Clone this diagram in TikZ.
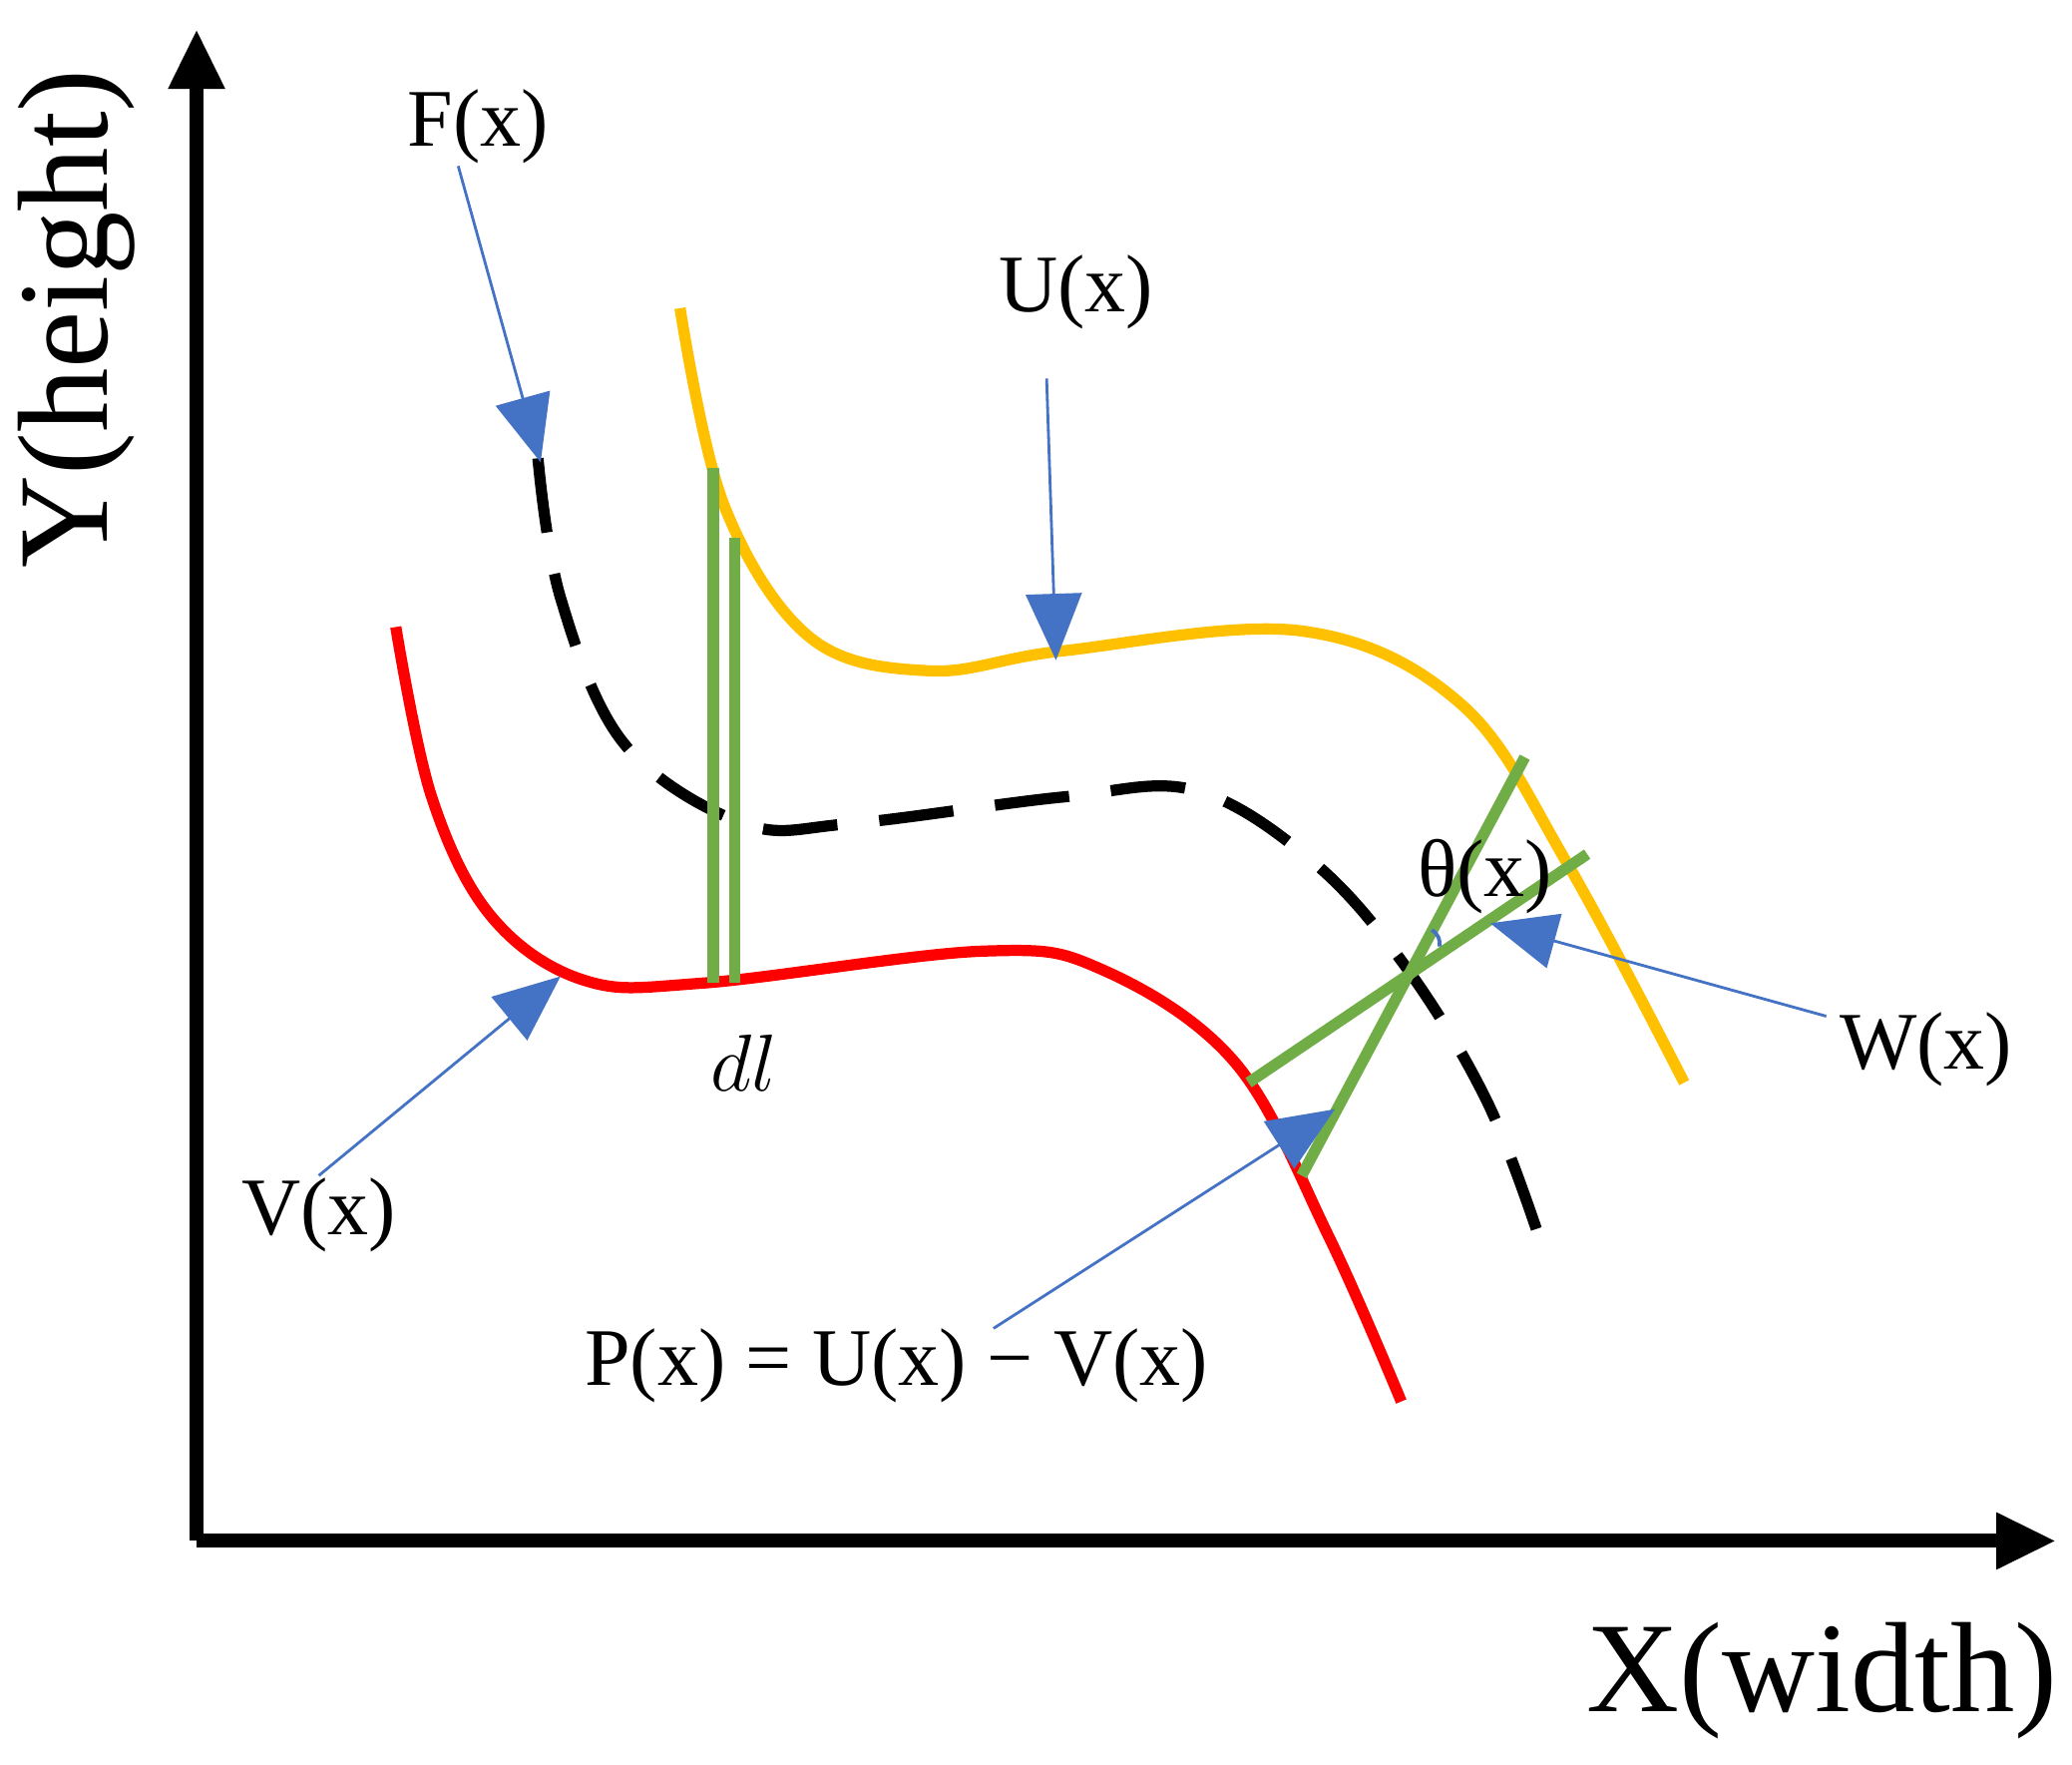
\documentclass[tikz,border=0pt]{standalone}
\usepackage{fontspec}
\setmainfont{Liberation Serif}
\usetikzlibrary{arrows.meta}
\definecolor{ablue}{RGB}{68,114,196}
\definecolor{agreen}{RGB}{112,173,71}
\definecolor{aorange}{RGB}{255,192,0}
\begin{document}
\begin{tikzpicture}[x=0.01cm,y=-0.01cm,
  lbl/.style={font=\fontsize{17.5}{20}\selectfont,inner sep=0pt},
  big/.style={font=\fontsize{27.5}{30}\selectfont,inner sep=0pt},
  ptr/.style={ablue,line width=0.6pt,-{Triangle[length=0.5cm,width=0.42cm]}},
  grn/.style={agreen,line width=2.4pt}]
\useasboundingbox (0,0) rectangle (1560,1328);
\coordinate (O) at (148,1160);
\coordinate (Ytop) at (148,22);
\coordinate (Xend) at (1548,1160);
\draw[line width=3pt,-{Triangle[length=0.45cm,width=0.4cm]}] (O) -- (Ytop);
\draw[line width=3pt,-{Triangle[length=0.45cm,width=0.4cm]}] (O) -- (Xend);
\node[big,rotate=90] (ylab) at (58,240) {Y(height)};
\node[big] (xlab) at (1372,1265) {X(width)};
% curves
\draw[red,line width=2.4pt] plot[smooth,tension=0.6] coordinates {(298,472) (325,600) (370,690) (440,738) (530,740) (740,716) (830,730) (930,800) (1000,930) (1055,1055)};
\draw[aorange,line width=2.4pt] plot[smooth,tension=0.6] coordinates {(512,232) (545,380) (610,480) (700,505) (800,490) (980,475) (1100,530) (1180,650) (1268,815)};
\draw[black,line width=2.4pt,dash pattern=on 16pt off 9pt] plot[smooth,tension=0.6] coordinates {(405,345) (422,450) (470,560) (560,620) (640,620) (800,600) (900,595) (990,650) (1060,730) (1120,830) (1160,935)};
% green
\coordinate (g1a) at (537,352); \coordinate (g1b) at (537,740);
\coordinate (g2a) at (553,405); \coordinate (g2b) at (553,740);
\coordinate (g3a) at (940,815); \coordinate (g3b) at (1195,643);
\coordinate (g4a) at (980,885); \coordinate (g4b) at (1148,570);
\draw[grn] (g1a) -- (g1b);
\draw[grn] (g2a) -- (g2b);
\draw[grn] (g3a) -- (g3b);
\draw[grn] (g4a) -- (g4b);
\draw[ablue,line width=0.8pt] (1078,700) arc[start angle=-60,end angle=10,radius=12];
% labels
\node[lbl] (F) at (360,95) {F(x)};
\node[lbl] (U) at (810,220) {U(x)};
\node[lbl] (V) at (240,915) {V(x)};
\node[lbl] (W) at (1450,790) {W(x)};
\node[lbl] (P) at (675,1028) {P(x) = U(x) − V(x)};
\node[lbl] (T) at (1118,660) {θ(x)};
\node[lbl] (dl) at (560,800) {$dl$};
% pointers
\coordinate (Ft) at (407,348);
\coordinate (Ut) at (795,497);
\coordinate (Vt) at (422,735);
\coordinate (Wt) at (1122,695);
\coordinate (Pt) at (1005,835);
\draw[ptr] (345,125) -- (Ft);
\draw[ptr] (788,285) -- (Ut);
\draw[ptr] (240,885) -- (Vt);
\draw[ptr] (1375,765) -- (Wt);
\draw[ptr] (748,1000) -- (Pt);
\end{tikzpicture}
\end{document}
